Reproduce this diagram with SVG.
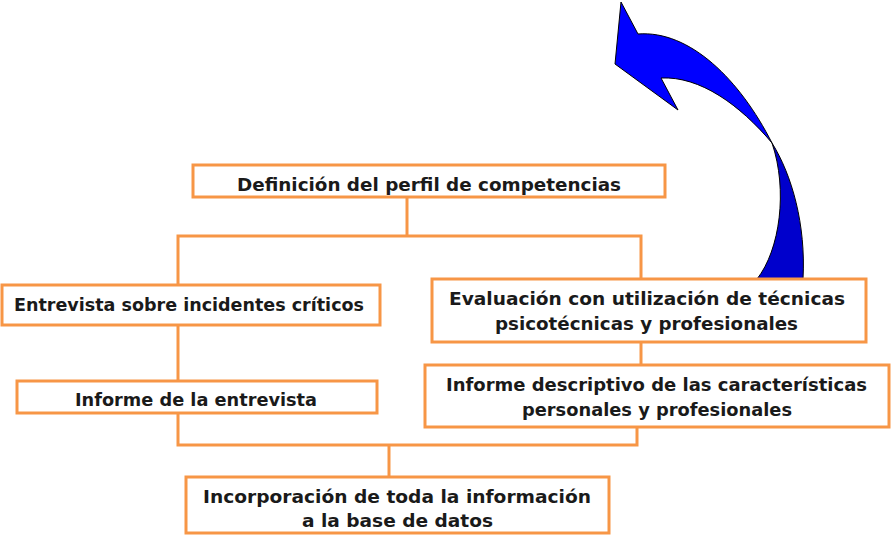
<svg xmlns="http://www.w3.org/2000/svg" width="891" height="547" viewBox="0 0 891 547">
<style>
.box{fill:#fff;stroke:#F79646;stroke-width:3}
.con{fill:none;stroke:#F79646;stroke-width:3}
.t{font-family:"DejaVu Sans","Liberation Sans",sans-serif;font-weight:bold;font-size:18px;fill:#1a1a1a}
</style>
<rect width="891" height="547" fill="#fff"/>
<g id="connectors">
<polyline class="con" points="407,197 407,236"/>
<polyline class="con" points="178,285 178,236 641,236 641,279"/>
<polyline class="con" points="178,325 178,381"/>
<polyline class="con" points="641,342 641,365"/>
<polyline class="con" points="178,413 178,445 637,445 637,427"/>
<polyline class="con" points="389,445 389,477"/>
</g>
<g id="arrow" stroke="#000" stroke-width="1">
<path fill="#0000FF" d="M621,2 L638,34 C690,30 740,80 772,143 C740,105 700,76 661,78 L678,110 L615,64 Z"/>
<path fill="#0000CC" d="M772,143 C792,175 806,225 803,279 L757,279 C780,250 788,190 772,143 Z"/>
</g>
<g id="n1">
<rect class="box" x="193" y="165" width="472" height="32"/>
<text class="t" x="237" y="191" textLength="384" lengthAdjust="spacingAndGlyphs">Definición del perfil de competencias</text>
</g>
<g id="n2">
<rect class="box" x="2" y="285" width="378" height="40"/>
<text class="t" x="14" y="311" textLength="350" lengthAdjust="spacingAndGlyphs">Entrevista sobre incidentes críticos</text>
</g>
<g id="n3">
<rect class="box" x="432" y="279" width="434" height="63"/>
<text class="t" x="449" y="305" textLength="396" lengthAdjust="spacingAndGlyphs">Evaluación con utilización de técnicas</text>
<text class="t" x="495" y="330" textLength="303" lengthAdjust="spacingAndGlyphs">psicotécnicas  y profesionales</text>
</g>
<g id="n4">
<rect class="box" x="17" y="381" width="360" height="32"/>
<text class="t" x="75" y="406" textLength="242" lengthAdjust="spacingAndGlyphs">Informe de la entrevista</text>
</g>
<g id="n5">
<rect class="box" x="425" y="365" width="464" height="62"/>
<text class="t" x="446" y="391" textLength="421" lengthAdjust="spacingAndGlyphs">Informe descriptivo de las características</text>
<text class="t" x="522" y="416" textLength="270" lengthAdjust="spacingAndGlyphs">personales  y profesionales</text>
</g>
<g id="n6">
<rect class="box" x="186" y="477" width="423" height="56"/>
<text class="t" x="203" y="503" textLength="388" lengthAdjust="spacingAndGlyphs">Incorporación de toda la información</text>
<text class="t" x="302" y="527" textLength="191" lengthAdjust="spacingAndGlyphs">a la base de datos</text>
</g>
</svg>
